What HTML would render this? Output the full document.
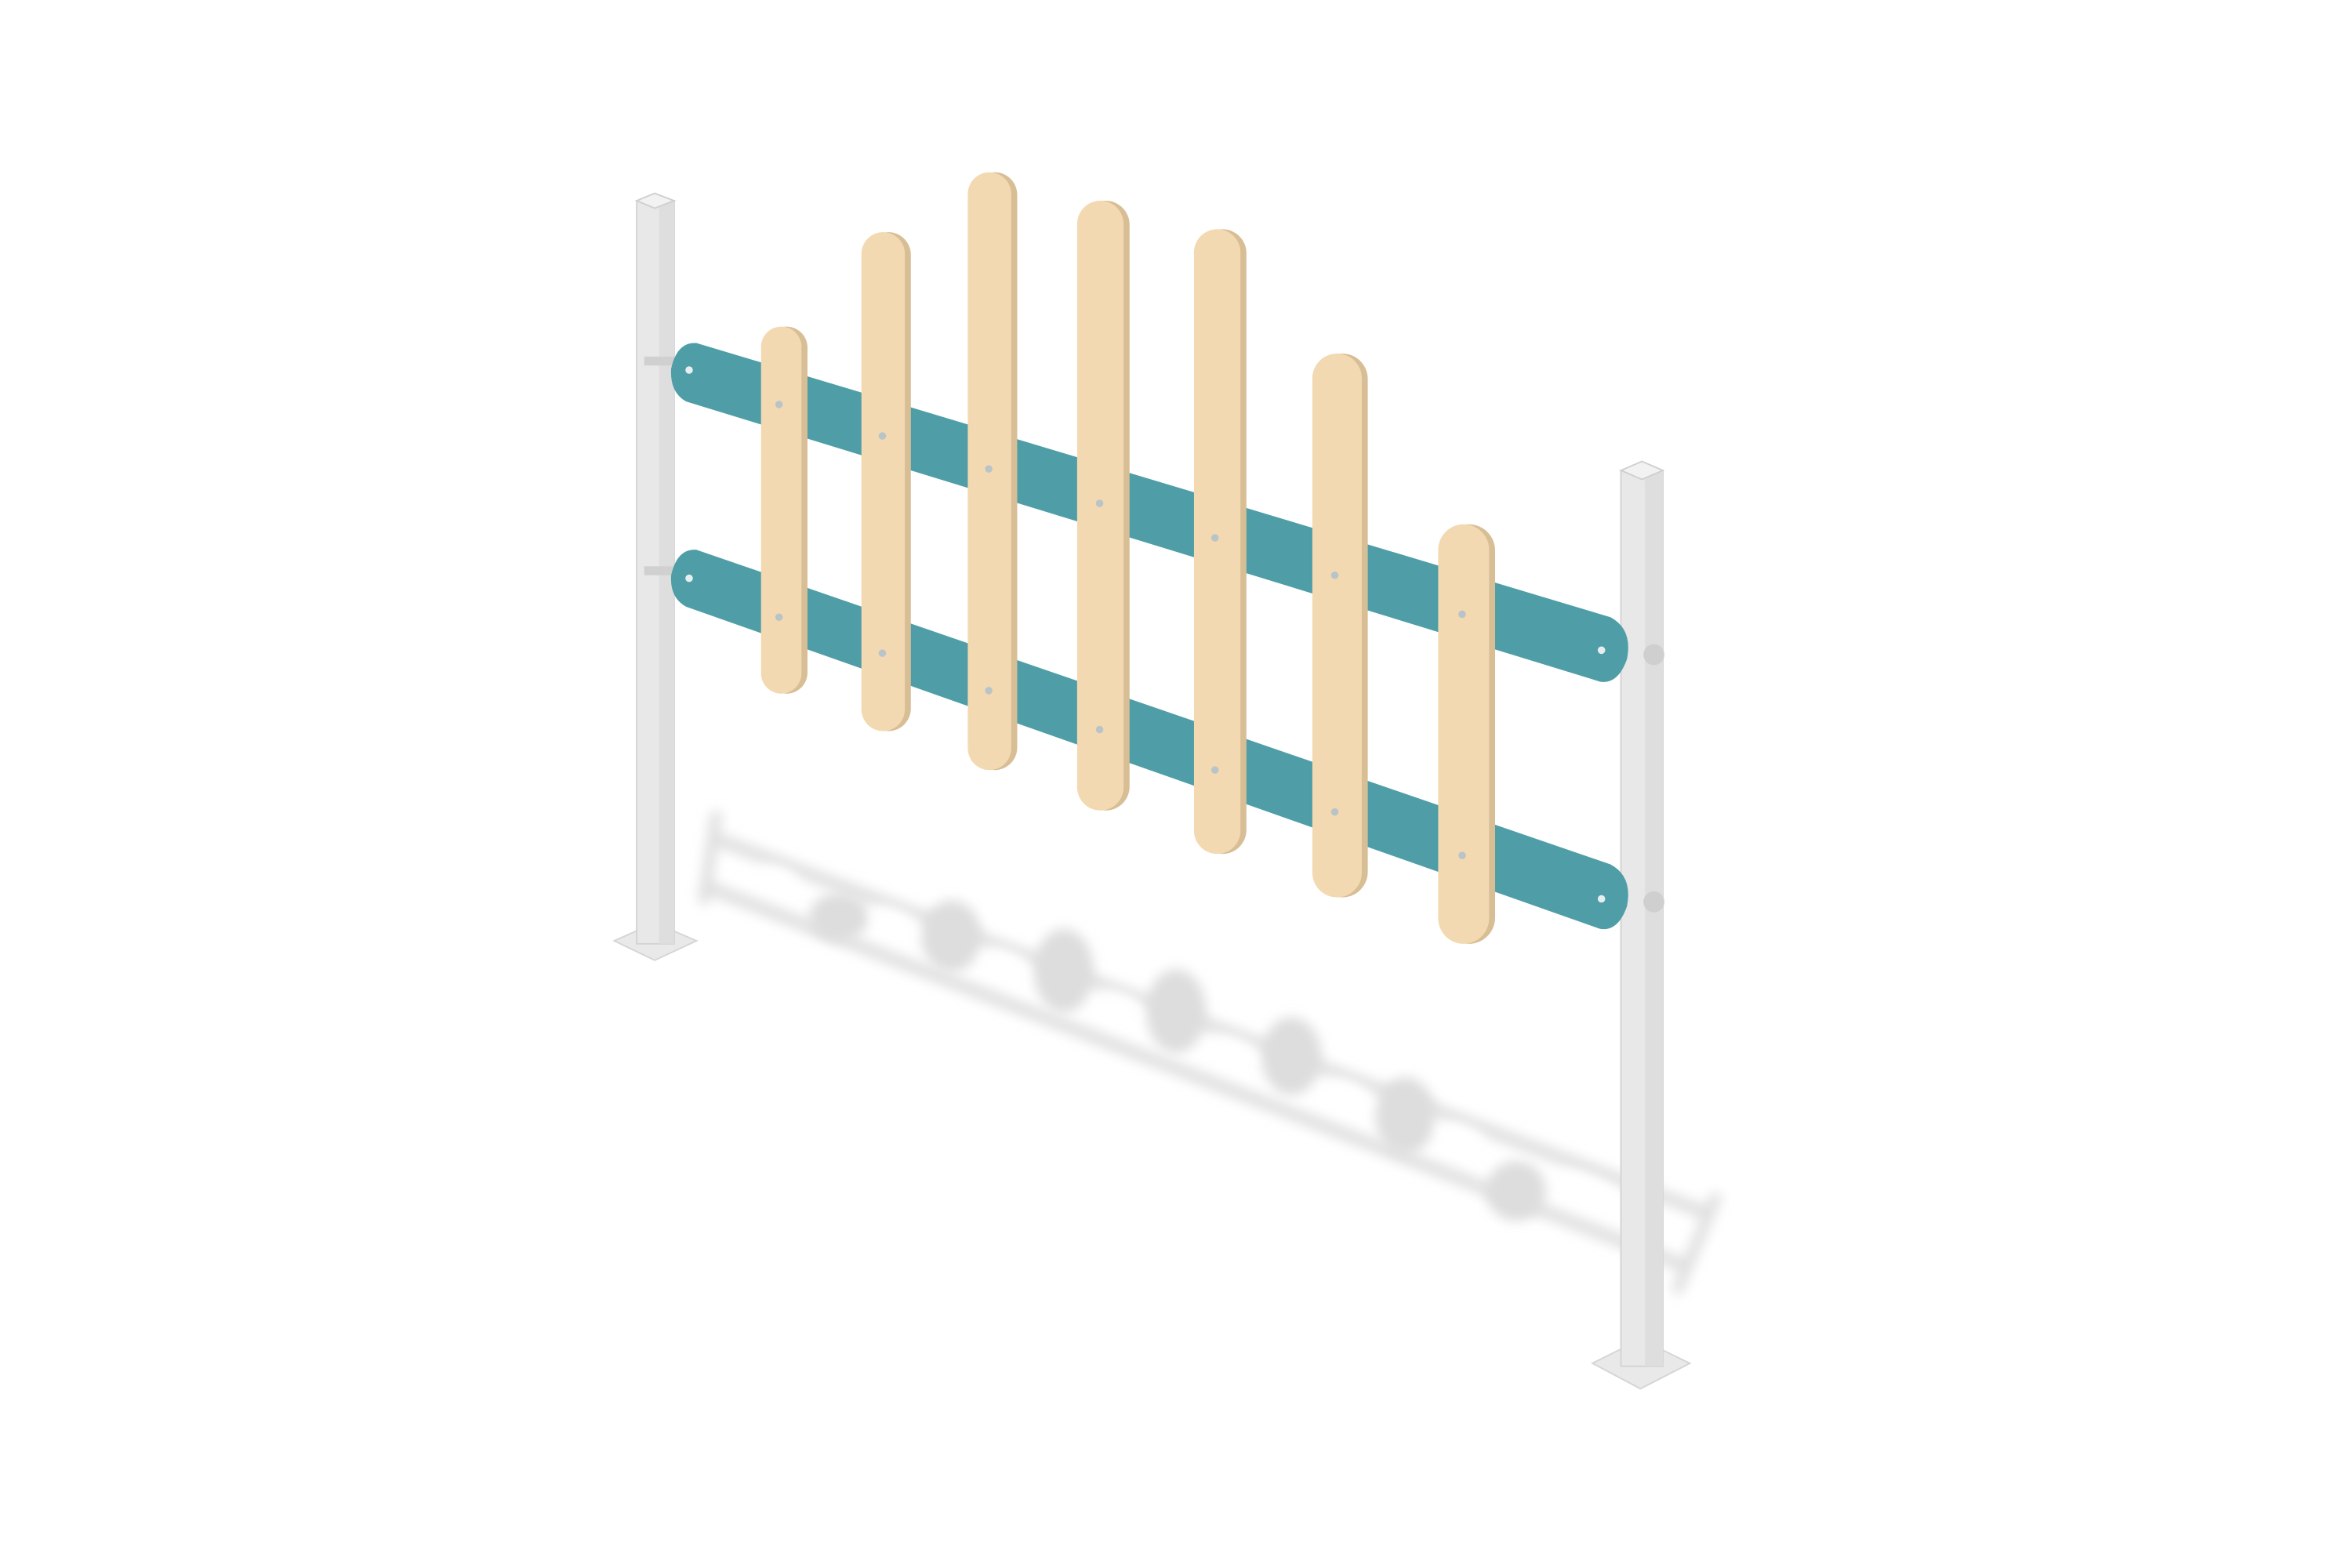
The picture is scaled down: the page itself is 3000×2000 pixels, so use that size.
<!DOCTYPE html>
<html><head><meta charset="utf-8"><style>
html,body{margin:0;padding:0;background:#fff;}
svg{display:block;}
</style></head><body>
<svg width="3000" height="2000" viewBox="0 0 1548 1032" xmlns="http://www.w3.org/2000/svg">
<defs>
<filter id="bl" x="-20%" y="-20%" width="140%" height="140%"><feGaussianBlur stdDeviation="4"/></filter>
</defs>
<rect width="1548" height="1032" fill="#fff"/>
<g transform="scale(0.986)">
<!-- shadow -->
<g filter="url(#bl)" fill="none" stroke="#e0e0e0" stroke-linecap="round">
<path d="M478 560 L1140 810" stroke-width="9"/>
<path d="M472 592 L1125 845" stroke-width="9"/>
<path d="M478 545 L470 600" stroke-width="8"/>
<path d="M1145 800 L1120 860" stroke-width="8"/>
</g>
<g filter="url(#bl)" fill="#dddddd">
<ellipse cx="560" cy="612" rx="20" ry="16"/>
<ellipse cx="635" cy="625" rx="20" ry="24"/>
<ellipse cx="710" cy="648" rx="20" ry="28"/>
<ellipse cx="785" cy="675" rx="20" ry="28"/>
<ellipse cx="862" cy="705" rx="20" ry="26"/>
<ellipse cx="938" cy="745" rx="20" ry="26"/>
<ellipse cx="1012" cy="795" rx="20" ry="20"/>
</g>
<g filter="url(#bl)" fill="#fff">
<ellipse cx="520" cy="586" rx="14" ry="7" transform="rotate(21 520 586)"/>
<ellipse cx="597" cy="614" rx="16" ry="7" transform="rotate(21 597 614)"/>
<ellipse cx="672" cy="642" rx="16" ry="7" transform="rotate(21 672 642)"/>
<ellipse cx="748" cy="670" rx="16" ry="7" transform="rotate(21 748 670)"/>
<ellipse cx="824" cy="700" rx="16" ry="7" transform="rotate(21 824 700)"/>
<ellipse cx="900" cy="729" rx="16" ry="7" transform="rotate(21 900 729)"/>
<ellipse cx="976" cy="758" rx="16" ry="7" transform="rotate(21 976 758)"/>
<ellipse cx="1060" cy="792" rx="22" ry="7" transform="rotate(21 1060 792)"/>
</g>
<!-- left post -->
<polygon points="410,628 437,616 465,628 437,641" fill="#e9e9e9" stroke="#d5d5d5"/>
<rect x="425" y="134" width="25" height="496" fill="#e8e8e8" stroke="#d3d3d3"/>
<rect x="440" y="134" width="10" height="496" fill="#dedede"/>
<polygon points="425,134 437,129 450,134 437,139" fill="#f2f2f2" stroke="#cfcfcf"/>
<!-- right post -->
<polygon points="1063,910 1095,894 1128,910 1095,927" fill="#e9e9e9" stroke="#d5d5d5"/>
<rect x="1082" y="314" width="28" height="598" fill="#e8e8e8" stroke="#d3d3d3"/>
<rect x="1098" y="314" width="12" height="598" fill="#dedede"/>
<polygon points="1082,314 1096,308 1110,314 1096,320" fill="#f2f2f2" stroke="#cfcfcf"/>
<!-- brackets -->
<g fill="#d0d0d0"><rect x="430" y="238" width="20" height="6"/><rect x="430" y="378" width="20" height="6"/></g>
<circle cx="1104" cy="437" r="7" fill="#cfcfcf"/><circle cx="1104" cy="602" r="7" fill="#cfcfcf"/>
<!-- rails -->
<g fill="#4f9ea7">
<path d="M465 229 L1075 412 Q1090 420 1086 440 Q1080 457 1068 455 L458 268 Q447 262 448 246 Q452 228 465 229 Z"/>
<path d="M465 367 L1075 577 Q1090 585 1086 605 Q1080 622 1068 620 L458 405 Q447 399 448 384 Q452 366 465 367 Z"/>
</g>
<g fill="#e6eef0"><circle cx="460" cy="247" r="2.5"/><circle cx="460" cy="386" r="2.5"/><circle cx="1069" cy="434" r="2.5"/><circle cx="1069" cy="600" r="2.5"/></g>
<!-- pickets -->
<g>
<rect x="511" y="218" width="28" height="245" rx="14" fill="#d8be95"/>
<rect x="508" y="218" width="27" height="245" rx="13.5" fill="#f3d9b1"/>
<rect x="578" y="155" width="30" height="333" rx="15" fill="#d8be95"/>
<rect x="575" y="155" width="29" height="333" rx="14.5" fill="#f3d9b1"/>
<rect x="649" y="115" width="30" height="399" rx="15" fill="#d8be95"/>
<rect x="646" y="115" width="29" height="399" rx="14.5" fill="#f3d9b1"/>
<rect x="722" y="134" width="32" height="407" rx="16" fill="#d8be95"/>
<rect x="719" y="134" width="31" height="407" rx="15.5" fill="#f3d9b1"/>
<rect x="800" y="153" width="32" height="417" rx="16" fill="#d8be95"/>
<rect x="797" y="153" width="31" height="417" rx="15.5" fill="#f3d9b1"/>
<rect x="879" y="236" width="34" height="363" rx="17" fill="#d8be95"/>
<rect x="876" y="236" width="33" height="363" rx="16.5" fill="#f3d9b1"/>
<rect x="963" y="350" width="35" height="280" rx="17.5" fill="#d8be95"/>
<rect x="960" y="350" width="34" height="280" rx="17" fill="#f3d9b1"/>
</g>
<g fill="#b9c4c8">
<circle cx="520" cy="270" r="2.5"/><circle cx="520" cy="412" r="2.5"/>
<circle cx="589" cy="291" r="2.5"/><circle cx="589" cy="436" r="2.5"/>
<circle cx="660" cy="313" r="2.5"/><circle cx="660" cy="461" r="2.5"/>
<circle cx="734" cy="336" r="2.5"/><circle cx="734" cy="487" r="2.5"/>
<circle cx="811" cy="359" r="2.5"/><circle cx="811" cy="514" r="2.5"/>
<circle cx="891" cy="384" r="2.5"/><circle cx="891" cy="542" r="2.5"/>
<circle cx="976" cy="410" r="2.5"/><circle cx="976" cy="571" r="2.5"/>
</g>
</g>
</svg>
</body></html>
